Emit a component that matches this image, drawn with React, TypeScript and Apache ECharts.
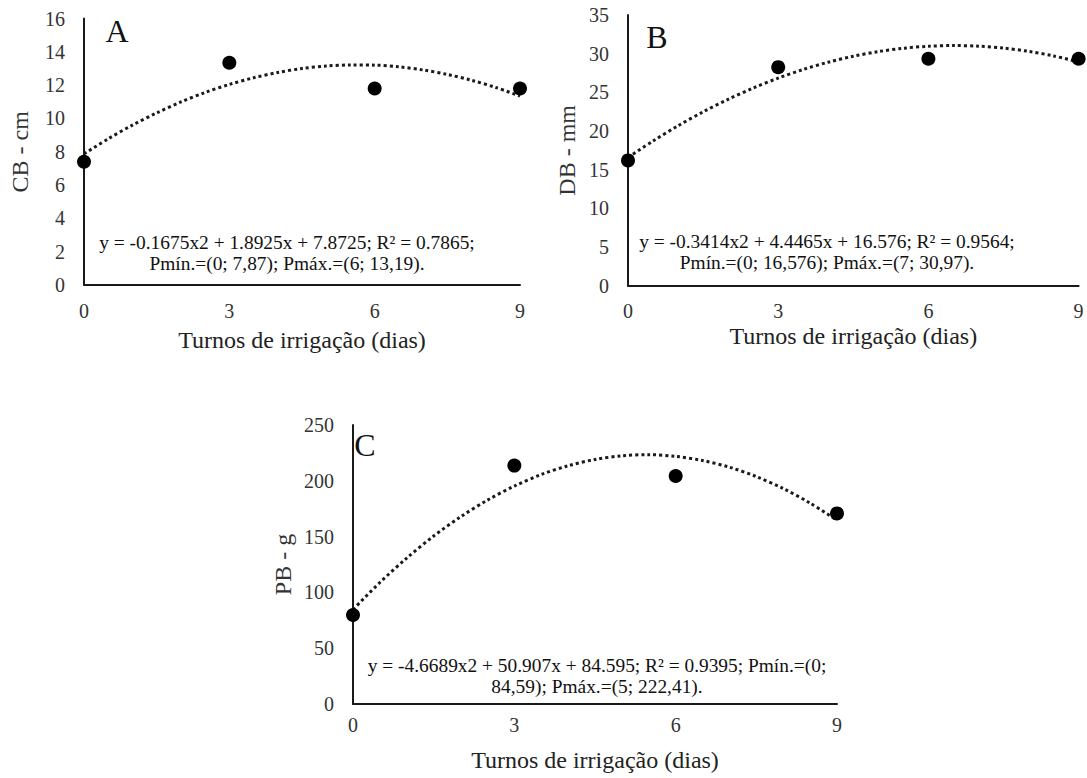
import React, { useEffect, useRef } from "react";
import * as echarts from "echarts";

const xDays = [0, 3, 6, 9];
const trendX = [0, 0.5, 1, 1.5, 2, 2.5, 3, 3.5, 4, 4.5, 5, 5.5, 6, 6.5, 7, 7.5, 8, 8.5, 9];

const cbValues = [7.4, 13.34, 11.8, 11.8];
const dbValues = [16.2, 28.26, 29.35, 29.35];
const pbValues = [79.7, 213.6, 204.3, 170.8];

const cbTrend = [7.87, 8.78, 9.6, 10.33, 10.99, 11.56, 12.04, 12.44, 12.76, 13.0, 13.15, 13.21, 13.2, 13.1, 12.91, 12.64, 12.29, 11.86, 11.34];
const dbTrend = [16.58, 18.71, 20.68, 22.48, 24.1, 25.56, 26.84, 27.96, 28.9, 29.67, 30.27, 30.7, 30.96, 31.05, 30.97, 30.72, 30.3, 29.71, 28.94];
const pbTrend = [84.6, 108.9, 130.8, 150.5, 167.7, 182.7, 195.3, 205.6, 213.5, 219.1, 222.4, 223.4, 221.9, 218.2, 212.2, 203.8, 193.1, 180.0, 164.6];

const yNames = ["CB - cm", "DB - mm", "PB - g"];
const xName = "Turnos de irrigação (dias)";
const panelLetters = ["A", "B", "C"];
const equations = [
  "y = -0.1675x2 + 1.8925x + 7.8725; R² = 0.7865;\nPmín.=(0; 7,87); Pmáx.=(6; 13,19).",
  "y = -0.3414x2 + 4.4465x + 16.576; R² = 0.9564;\nPmín.=(0; 16,576); Pmáx.=(7; 30,97).",
  "y = -4.6689x2 + 50.907x + 84.595; R² = 0.9395; Pmín.=(0;\n84,59); Pmáx.=(5; 222,41).",
];
const yMax = [16, 35, 250];
const yInterval = [2, 5, 50];

const FONT = "'Liberation Serif', 'Times New Roman', serif";

export default function App() {
  const ref = useRef<HTMLDivElement>(null);
  useEffect(() => {
    if (!ref.current) return;
    const chart = echarts.init(ref.current, undefined, { renderer: "svg" });
    const grids = [
      { left: 84, right: 567, top: 18.5, bottom: 493 },
      { left: 628, right: 8.4, top: 15, bottom: 492.3 },
      { left: 353, right: 250, top: 425, bottom: 74 },
    ];
    const xLabelMargin = [16, 15, 11];
    const xNameGap = [43, 38, 44];
    const yNameGap = [52, 49, 58];
    const values = [cbValues, dbValues, pbValues];
    const trends = [cbTrend, dbTrend, pbTrend];
    const axisLine = { show: true, lineStyle: { color: "#1a1a1a", width: 2 } };
    const option: any = {
      animation: false,
      backgroundColor: "#fff",
      grid: grids.map((g) => ({ ...g, containLabel: false })),
      xAxis: grids.map((_, i) => ({
        type: "value",
        gridIndex: i,
        min: 0,
        max: 9,
        interval: 3,
        axisLine,
        axisTick: { show: false },
        splitLine: { show: false },
        axisLabel: { color: "#333", fontFamily: FONT, fontSize: 20, margin: xLabelMargin[i] },
        name: xName,
        nameLocation: "middle",
        nameGap: xNameGap[i],
        nameTextStyle: { color: "#222", fontFamily: FONT, fontSize: 24 },
      })),
      yAxis: grids.map((_, i) => ({
        type: "value",
        gridIndex: i,
        min: 0,
        max: yMax[i],
        interval: yInterval[i],
        axisLine,
        axisTick: { show: false },
        splitLine: { show: false },
        axisLabel: { color: "#333", fontFamily: FONT, fontSize: 20, margin: 19 },
        name: yNames[i],
        nameLocation: "middle",
        nameGap: yNameGap[i],
        nameTextStyle: { color: "#333", fontFamily: FONT, fontSize: 24 },
      })),
      series: [
        ...trends.map((t, i) => ({
          type: "line",
          xAxisIndex: i,
          yAxisIndex: i,
          data: trendX.map((x, k) => [x, t[k]]),
          smooth: 0.3,
          showSymbol: false,
          symbol: "none",
          lineStyle: { color: "#1a1a1a", width: 3, type: [3, 3] },
          z: 2,
        })),
        ...values.map((v, i) => ({
          type: "scatter",
          xAxisIndex: i,
          yAxisIndex: i,
          data: xDays.map((x, k) => [x, v[k]]),
          symbol: "circle",
          symbolSize: 14,
          itemStyle: { color: "#000", opacity: 1 },
          z: 3,
        })),
      ],
      graphic: [
        ...[
          [117, 31],
          [657, 37],
          [365, 445],
        ].map((p, i) => ({
          type: "text",
          x: p[0],
          y: p[1],
          style: {
            text: panelLetters[i],
            fontFamily: FONT,
            fontSize: 32,
            fill: "#111",
            align: "center",
            verticalAlign: "middle",
          },
        })),
        ...[
          [287, 252.5],
          [827, 251.5],
          [597, 675.5],
        ].map((p, i) => ({
          type: "text",
          x: p[0],
          y: p[1],
          style: {
            text: equations[i],
            fontFamily: FONT,
            fontSize: 19.4,
            lineHeight: 21,
            fill: "#111",
            align: "center",
            verticalAlign: "middle",
          },
        })),
      ],
    };
    chart.setOption(option);
    return () => chart.dispose();
  }, []);
  return (
    <div
      ref={ref}
      style={{ position: "fixed", left: 0, top: 0, width: 1087, height: 778 }}
    />
  );
}
